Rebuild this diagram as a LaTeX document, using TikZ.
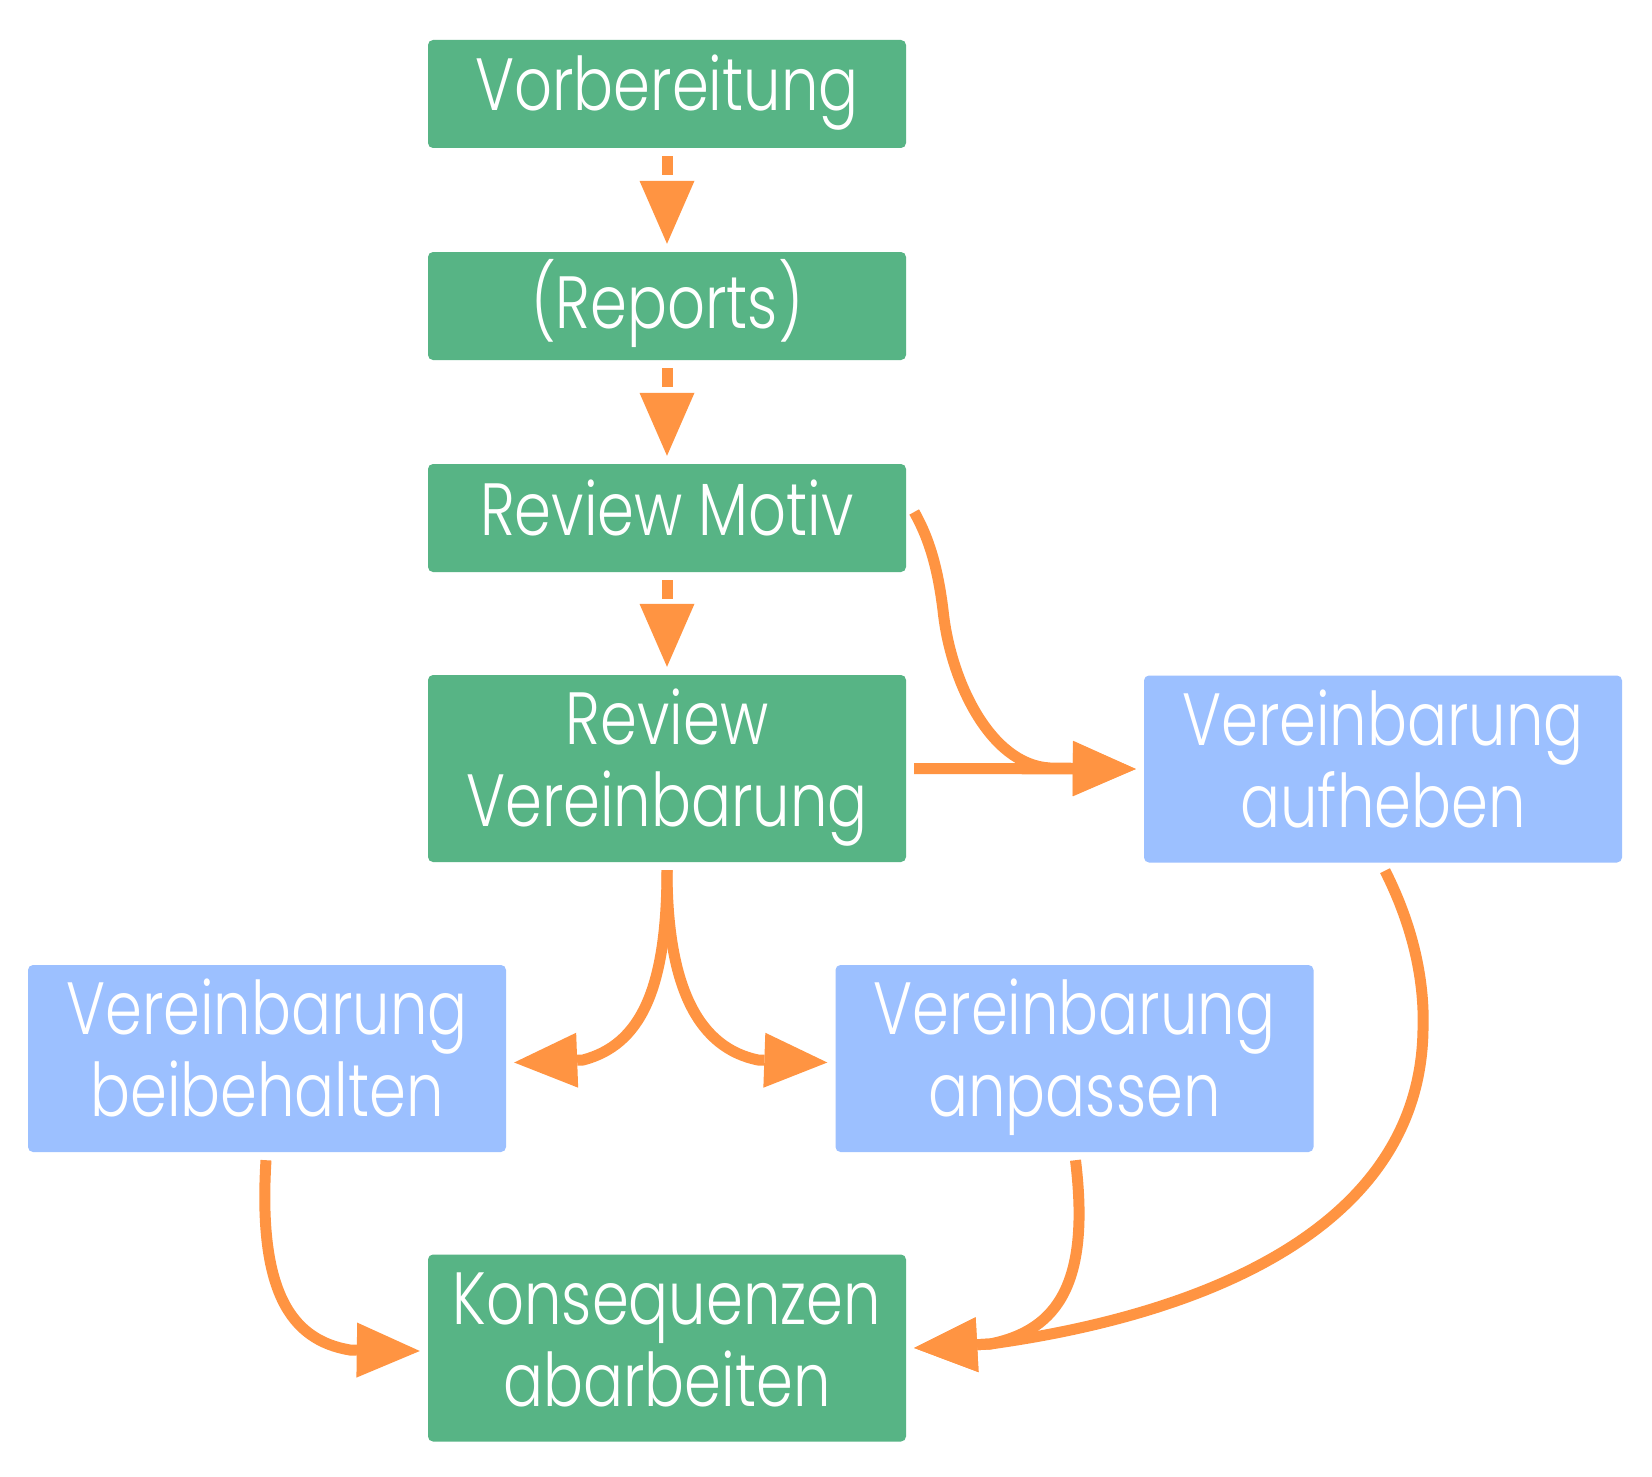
\documentclass[tikz,border=0pt]{standalone}
\usepackage{fontspec}
\setmainfont{Poppins}[UprightFont={* Light}, FakeStretch=0.80]
\usetikzlibrary{arrows.meta,calc}
\definecolor{boxgreen}{RGB}{87,180,133}
\definecolor{boxblue}{RGB}{156,192,255}
\definecolor{arrowor}{RGB}{255,148,66}
\newcommand\lnstrut{\rule[-24pt]{0pt}{82pt}}
\begin{document}
\begin{tikzpicture}[x=1pt,y=-1pt,
  box/.style={rounded corners=5pt, minimum width=478pt, inner sep=0pt, text=white, font=\fontsize{74}{82}\selectfont, align=center},
  gbox/.style={box, fill=boxgreen},
  bbox/.style={box, fill=boxblue},
  small/.style={minimum height=108pt},
  tall/.style={minimum height=187pt},
  conn/.style={draw=arrowor, line width=11pt, -{Triangle[length=63pt,width=55pt,line width=0pt]}},
  dconn/.style={conn, dash pattern=on 19pt off 60pt},
]
\fill[white] (0,0) rectangle (1652,1477);
\useasboundingbox (0,0) rectangle (1652,1477);

\node[gbox,small] (vorb) at (667,94) {\lnstrut Vorbereitung};
\node[gbox,small] (rep) at (667,306) {\lnstrut (Reports)};
\node[gbox,small] (motiv) at (667,518) {\lnstrut Review Motiv};
\node[gbox,tall] (revver) at (667,768.5) {\lnstrut Review\\\lnstrut Vereinbarung};
\node[bbox,tall] (aufh) at (1383,769) {\lnstrut Vereinbarung\\\lnstrut aufheben};
\node[bbox,tall] (beib) at (267,1058.5) {\lnstrut Vereinbarung\\\lnstrut beibehalten};
\node[bbox,tall] (anp) at (1074.5,1058.5) {\lnstrut Vereinbarung\\\lnstrut anpassen};
\node[gbox,tall] (kons) at (667,1348) {\lnstrut Konsequenzen\\\lnstrut abarbeiten};

\draw[dconn] ($(vorb.south)+(0,8)$) -- ($(rep.north)+(0,-8)$);
\draw[dconn] ($(rep.south)+(0,8)$) -- ($(motiv.north)+(0,-8)$);
\draw[dconn] ($(motiv.south)+(0,8)$) -- ($(revver.north)+(0,-8)$);

\draw[conn] ($(motiv.east)+(8,-6)$) .. controls (930,540) and (938,570) .. (943,610)
  .. controls (950,680) and (990,765) .. (1050,768) -- ($(aufh.west)+(-8,0)$);
\draw[conn] ($(revver.east)+(8,0)$) -- ($(aufh.west)+(-8,0)$);

\draw[conn] ($(revver.south)+(0,8)$) .. controls (667,990) and (640,1045) .. (583,1060) -- ($(beib.east)+(8,4)$);
\draw[conn] ($(revver.south)+(0,8)$) .. controls (667,990) and (700,1048) .. (758,1060) -- ($(anp.west)+(-8,4)$);

\draw[conn] ($(beib.south)+(-1,8)$) .. controls (258,1290) and (290,1340) .. (350,1350) -- ($(kons.west)+(-8,3)$);
\draw[conn] ($(anp.south)+(1,8)$) .. controls (1090,1280) and (1060,1330) .. (990,1344) -- ($(kons.east)+(8,0)$);
\draw[conn] ($(aufh.south)+(2,8)$) .. controls (1410,920) and (1425,975) .. (1423,1030)
  .. controls (1420,1230) and (1200,1315) .. (990,1344) -- ($(kons.east)+(8,0)$);
\end{tikzpicture}
\end{document}
